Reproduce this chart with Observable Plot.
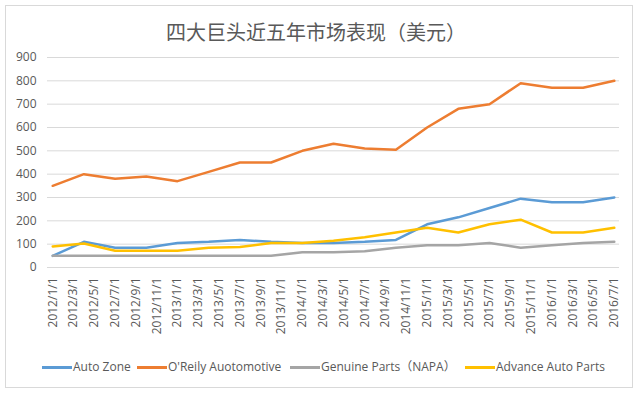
<!DOCTYPE html>
<html>
<head>
<meta charset="utf-8">
<script src="https://cdn.jsdelivr.net/npm/d3@7"></script>
<script src="https://cdn.jsdelivr.net/npm/@observablehq/plot@0.6"></script>
<style>
  html, body { margin: 0; padding: 0; background: #fff; }
  body { width: 640px; height: 397px; position: relative; overflow: hidden; font-family: "Open Sans", "Noto Sans CJK SC", sans-serif; }
  #frame { position: absolute; left: 5px; top: 5px; width: 628px; height: 383px; border: 1px solid #d9d9d9; box-sizing: border-box; }
  #title { position: absolute; left: 0; width: 632px; top: 18px; text-align: center; font-size: 20px; color: #595959; line-height: 28px; font-family: "Noto Sans CJK SC", sans-serif; }
  #chart { position: absolute; left: 0; top: 45px; }
  #legend { position: absolute; top: 358px; left: 0; width: 640px; height: 18px; font-size: 12px; color: #595959; line-height: 18px; font-family: "Open Sans", "Noto Sans CJK SC", sans-serif; }
  .item { position: absolute; top: 0; display: flex; align-items: center; white-space: nowrap; height: 18px; }
  .sw { display: inline-block; width: 30px; height: 3px; margin-right: 1px; }
</style>
</head>
<body>
<div id="frame"></div>
<div id="title">四大巨头近五年市场表现（美元）</div>
<div id="chart"></div>
<div id="legend"></div>
<script>
// Quarterly observation dates
const dates = ["2012/1/1","2012/4/1","2012/7/1","2012/10/1","2013/1/1","2013/4/1","2013/7/1","2013/10/1",
  "2014/1/1","2014/4/1","2014/7/1","2014/10/1","2015/1/1","2015/4/1","2015/7/1","2015/10/1",
  "2016/1/1","2016/4/1","2016/7/1"];
// Series values (USD)
const autoZone   = [50,110,85,85,105,110,118,110,105,105,110,118,185,215,255,295,280,280,300];
const oReily     = [350,400,380,390,370,410,450,450,500,530,510,505,600,680,700,790,770,770,800];
const genuine    = [50,50,50,50,50,50,50,50,65,65,70,85,95,95,105,85,95,105,110];
const advance    = [90,103,72,72,72,85,88,105,105,115,130,150,170,150,185,205,150,150,170];
const seriesNames  = ["Auto Zone","O'Reily Auotomotive","Genuine Parts（NAPA）","Advance Auto Parts"];
const seriesValues = [autoZone, oReily, genuine, advance];
const seriesColors = ["#5B9BD5","#ED7D31","#A5A5A5","#FFC000"];
// Axis tick labels (every two months)
const tickLabels = ["2012/1/1","2012/3/1","2012/5/1","2012/7/1","2012/9/1","2012/11/1",
  "2013/1/1","2013/3/1","2013/5/1","2013/7/1","2013/9/1","2013/11/1",
  "2014/1/1","2014/3/1","2014/5/1","2014/7/1","2014/9/1","2014/11/1",
  "2015/1/1","2015/3/1","2015/5/1","2015/7/1","2015/9/1","2015/11/1",
  "2016/1/1","2016/3/1","2016/5/1","2016/7/1"];
const yTicks = [0,100,200,300,400,500,600,700,800,900];

const monthIndex = s => { const [y, m] = s.split("/").map(Number); return (y - 2012) * 12 + (m - 1); };
const data = [];
seriesNames.forEach((name, k) => {
  dates.forEach((d, i) => data.push({series: name, m: monthIndex(d), v: seriesValues[k][i]}));
});
const tickPos = tickLabels.map(monthIndex);
const labelOf = new Map(tickLabels.map(t => [monthIndex(t), t]));

const plot = Plot.plot({
  width: 640,
  height: 312,
  marginLeft: 47,
  marginRight: 21,
  marginTop: 12,
  marginBottom: 90,
  style: {fontFamily: "'Open Sans', 'Noto Sans CJK SC', sans-serif", color: "#595959", background: "transparent"},
  x: {type: "linear", domain: [-0.5, 54.5], label: null},
  y: {domain: [0, 900], label: null},
  color: {domain: seriesNames, range: seriesColors},
  marks: [
    Plot.ruleY(yTicks, {stroke: "#d9d9d9", strokeWidth: 1}),
    Plot.axisY({ticks: yTicks, tickSize: 0, tickPadding: 11, fontSize: 12, label: null}),
    Plot.axisX({ticks: tickPos, tickFormat: m => labelOf.get(m), tickRotate: -90, tickSize: 0, tickPadding: 10, fontSize: 12, label: null}),
    Plot.line(data, {x: "m", y: "v", z: "series", stroke: "series", strokeWidth: 2.5, strokeLinejoin: "round", strokeLinecap: "round"})
  ]
});
document.getElementById("chart").appendChild(plot);

// legend layout (left edge of each swatch, px)
const legendLeft = [42, 137, 290, 465];
const legend = document.getElementById("legend");
seriesNames.forEach((name, k) => {
  const it = document.createElement("span");
  it.className = "item";
  it.style.left = legendLeft[k] + "px";
  const sw = document.createElement("span");
  sw.className = "sw";
  sw.style.background = seriesColors[k];
  it.appendChild(sw);
  it.appendChild(document.createTextNode(name));
  legend.appendChild(it);
});
</script>
</body>
</html>
